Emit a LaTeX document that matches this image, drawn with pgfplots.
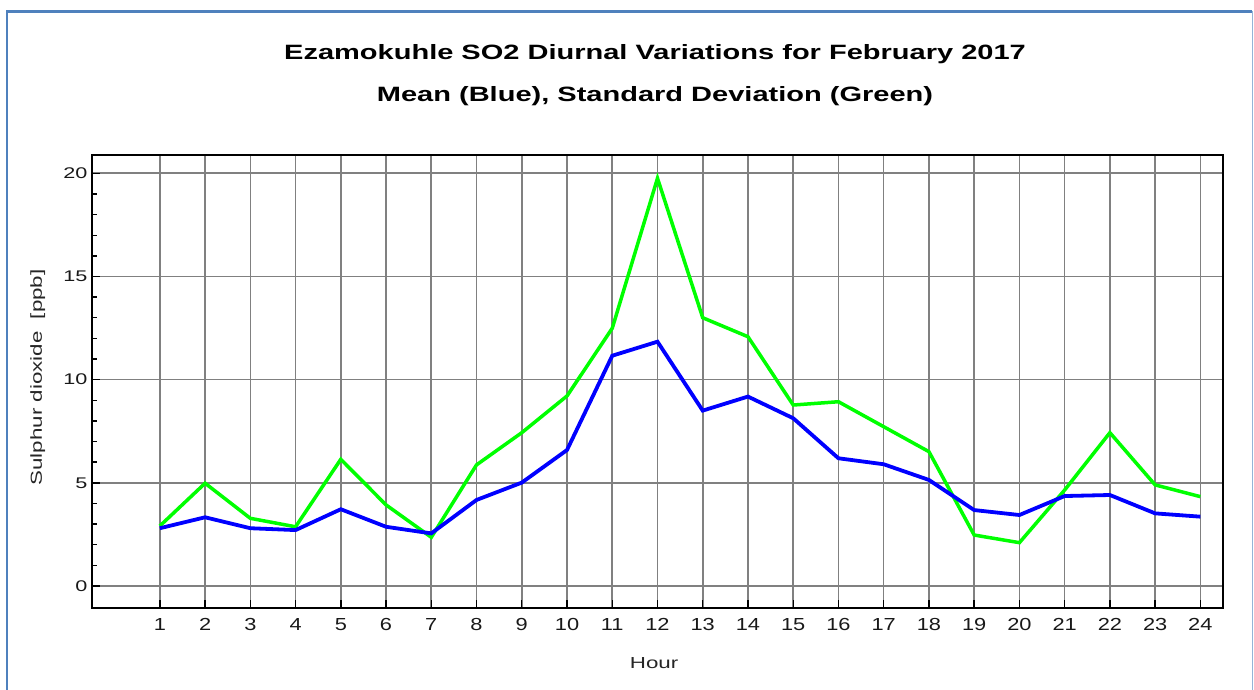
\documentclass[border=0pt]{standalone}
\usepackage{fontspec}
\setmainfont[FakeStretch=1.4]{Liberation Sans}
\newfontfamily\xtickfont[FakeStretch=1.25]{Liberation Sans}
\usepackage{pgfplots}
\pgfplotsset{compat=1.18}
\definecolor{framecol}{RGB}{79,129,189}
\definecolor{gridcol}{RGB}{128,128,128}
\definecolor{meanblue}{RGB}{0,0,255}
\definecolor{sdgreen}{RGB}{0,255,0}
\begin{document}
\begin{tikzpicture}
\useasboundingbox (0,0) rectangle (1254bp,690bp);
\fill[white] (0,0) rectangle (1254bp,690bp);
\draw[framecol, line width=2.2bp] (7bp,-10bp) -- (7bp,678.5bp) -- (1252bp,678.5bp);
\draw[framecol!60, line width=1.2bp] (1252.5bp,678.5bp) -- (1252.5bp,-10bp);
\node[anchor=base, font=\fontsize{20.8}{24}\selectfont\bfseries] at (655bp,630bp) {Ezamokuhle SO2 Diurnal Variations for February 2017};
\node[anchor=base, font=\fontsize{20.8}{24}\selectfont\bfseries] at (655bp,588.5bp) {Mean (Blue), Standard Deviation (Green)};
\begin{axis}[
  at={(92bp,82bp)}, anchor=south west,
  scale only axis, width=1131bp, height=453bp,
  xmin=-0.5, xmax=24.5, ymin=-1.066, ymax=20.887,
  xtick={1,...,24}, ytick={0,5,10,15,20},
  minor ytick={1,2,3,4,6,7,8,9,11,12,13,14,16,17,18,19},
  xtick pos=bottom, ytick pos=left, tick align=inside,
  major tick length=8bp, minor tick length=5bp,
  every tick/.style={black, line width=1.4bp},
  grid=major,
  major grid style={gridcol, line width=1.6bp},
  axis line style={black, line width=1.8bp},
  /pgf/number format/assume math mode=true,
  yticklabel style={font=\fontsize{15.5}{16}\selectfont, text=black!90, xshift=-1bp},
  xticklabel style={font=\xtickfont\fontsize{17.5}{18}\selectfont, text=black!90, yshift=-7bp},
  xlabel={Hour},
  ylabel={Sulphur dioxide\ \ [ppb]},
  label style={font=\fontsize{16}{16}\selectfont, text=black!85},
  xlabel style={at={(axis description cs:0.497,-0.121)}, anchor=center},
  ylabel style={at={(axis description cs:-0.048,0.509)}, anchor=center},
  clip=true,
]
\addplot[sdgreen, line width=3.5bp, no markers] coordinates {
(1,2.91) (2,4.98) (3,3.28) (4,2.87) (5,6.14) (6,3.93) (7,2.36) (8,5.87)
(9,7.43) (10,9.21) (11,12.49) (12,19.76) (13,13.0) (14,12.08) (15,8.77) (16,8.93)
(17,7.72) (18,6.51) (19,2.47) (20,2.10) (21,4.65) (22,7.43) (23,4.90) (24,4.33)
};
\addplot[meanblue, line width=3.8bp, no markers] coordinates {
(1,2.80) (2,3.33) (3,2.80) (4,2.71) (5,3.72) (6,2.87) (7,2.55) (8,4.17)
(9,5.01) (10,6.59) (11,11.16) (12,11.84) (13,8.50) (14,9.18) (15,8.13) (16,6.19)
(17,5.90) (18,5.14) (19,3.68) (20,3.44) (21,4.36) (22,4.41) (23,3.52) (24,3.36)
};
\end{axis}
\end{tikzpicture}
\end{document}
